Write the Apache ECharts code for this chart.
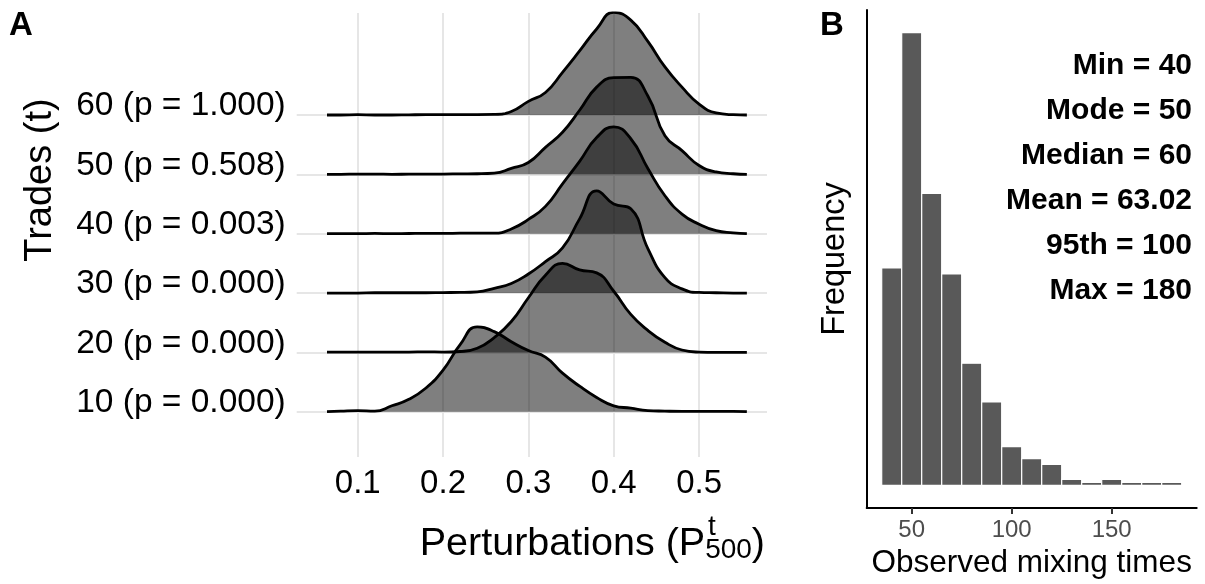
<!DOCTYPE html>
<html><head><meta charset="utf-8">
<script src="https://cdn.jsdelivr.net/npm/echarts@6/dist/echarts.min.js"></script>
<style>html,body{margin:0;padding:0;background:#fff}#c{width:1205px;height:584px}</style>
</head><body><div id="c"></div>
<script>
// ---------- Panel A data ----------
const perturbX = [0.064,0.08,0.10,0.12,0.14,0.16,0.18,0.20,0.22,0.24,0.26,0.28,0.30,0.32,0.34,0.36,0.38,0.40,0.42,0.44,0.46,0.48,0.50,0.52,0.54,0.556];
const tradeLabels = ['10 (p = 0.000)','20 (p = 0.000)','30 (p = 0.000)','40 (p = 0.003)','50 (p = 0.508)','60 (p = 1.000)'];
const perturbTicks = [0.1,0.2,0.3,0.4,0.5];
const perturbTickLabels = ['0.1','0.2','0.3','0.4','0.5'];
// ridge heights (in units of row spacing)
const dens10 = [0,0.01,0.02,0.01,0.10,0.21,0.40,0.70,1.13,1.43,1.35,1.18,1.03,0.92,0.65,0.43,0.24,0.10,0.06,0.02,0.01,0.005,0.005,0.005,0.005,0];
const dens20 = [0.005,0.005,0.005,0.005,0.005,0.005,0.01,0.005,0.015,0.07,0.25,0.52,0.92,1.30,1.50,1.39,1.34,1.03,0.64,0.37,0.17,0.04,0.005,0,0,0];
const dens30 = [0,0,0,0.005,0.005,0.005,0.005,0.008,0.01,0.02,0.08,0.16,0.32,0.53,0.76,1.25,1.72,1.50,1.42,0.75,0.26,0.07,0.01,0.005,0,0];
const dens40 = [0,0,0,0.005,0,0.003,0.005,0.005,0.008,0.01,0.01,0.08,0.24,0.46,0.84,1.22,1.62,1.80,1.60,1.10,0.64,0.33,0.16,0.05,0.015,0];
const dens50 = [0,0,0.005,0.005,0,0.003,0.005,0.005,0.008,0.01,0.02,0.10,0.20,0.455,0.71,1.08,1.47,1.63,1.635,1.32,0.65,0.40,0.15,0.04,0.01,0];
const dens60 = [0,0,0.005,0,0,0.003,0.005,0.005,0.008,0.008,0.01,0.06,0.23,0.38,0.72,1.08,1.45,1.73,1.60,1.24,0.81,0.47,0.185,0.034,0.005,0];

// ---------- Panel B data ----------
const mixBins = [40,50,60,70,80,90,100,110,120,130,140,150,160,170,180];
const mixCounts = [73,152,98,71,41,28,13,9,7,2,1,2,1,1,1];
const binWidth = 10;
const mixTicks = [50,100,150];
const statLabels = ['Min = 40','Mode = 50','Median = 60','Mean = 63.02','95th = 100','Max = 180'];

const FONT = '"Liberation Sans", Arial, Helvetica, sans-serif';
const ridges = [dens10,dens20,dens30,dens40,dens50,dens60];
const ridgeSeries = [];
for (let i = ridges.length - 1; i >= 0; i--) {
  ridgeSeries.push({
    type: 'line', xAxisIndex: 0, yAxisIndex: 0, smooth: 0.5, symbol: 'none', silent: true,
    data: perturbX.map((x, j) => [x, i + ridges[i][j]]),
    lineStyle: { color: '#000', width: 2.8 },
    areaStyle: { color: '#000', opacity: 0.5, origin: i }
  });
}

const chart = echarts.init(document.getElementById('c'));
const statGraphics = statLabels.map((t, k) => ({
  type: 'text', x: 1192, y: 66 + k * 45,
  style: { text: t, align: 'right', verticalAlign: 'middle', font: 'bold 30px ' + FONT, fill: '#000' }
}));

chart.setOption({
  animation: false,
  backgroundColor: '#fff',
  grid: [
    { left: 296.7, top: 13, width: 470.3, height: 444 },
    { left: 866.7, top: 10, width: 330, height: 503 }
  ],
  xAxis: [
    { type: 'value', gridIndex: 0, min: 0.0285, max: 0.5796,
      axisLine: { show: false },
      axisTick: { show: false, customValues: perturbTicks },
      axisLabel: { customValues: perturbTicks, formatter: v => perturbTickLabels[perturbTicks.indexOf(Math.round(v*10)/10)],
        fontSize: 33, color: '#000', fontFamily: FONT, margin: 10 },
      splitLine: { show: true, lineStyle: { color: '#e6e6e6', width: 2 } } },
    { type: 'value', gridIndex: 1, min: 27.5, max: 192.5,
      name: 'Observed mixing times', nameLocation: 'middle', nameGap: 39,
      nameTextStyle: { fontSize: 31.5, color: '#000', fontFamily: FONT },
      axisLine: { show: true, onZero: false, lineStyle: { color: '#000', width: 2 } },
      axisTick: { show: true, customValues: mixTicks, length: 6, lineStyle: { color: '#333', width: 2 } },
      axisLabel: { customValues: mixTicks, fontSize: 24, color: '#4d4d4d', fontFamily: FONT, margin: 10 },
      splitLine: { show: false } }
  ],
  yAxis: [
    { type: 'value', gridIndex: 0, min: -0.763, max: 6.719,
      axisLine: { show: false },
      axisTick: { show: false, customValues: [0,1,2,3,4,5] },
      axisLabel: { customValues: [0,1,2,3,4,5], formatter: v => tradeLabels[Math.round(v)],
        fontSize: 33.5, color: '#000', fontFamily: FONT, margin: 11, verticalAlign: 'bottom', lineHeight: 18 },
      splitLine: { show: true, lineStyle: { color: '#e6e6e6', width: 2 } } },
    { type: 'value', gridIndex: 1, min: -7.6, max: 159.6,
      name: 'Frequency', nameLocation: 'middle', nameGap: 15,
      nameTextStyle: { fontSize: 32.5, color: '#000', fontFamily: FONT },
      axisLine: { show: true, onZero: false, lineStyle: { color: '#000', width: 2 } },
      axisTick: { show: false }, axisLabel: { show: false }, splitLine: { show: false } }
  ],
  series: ridgeSeries.concat([{
    type: 'custom', xAxisIndex: 1, yAxisIndex: 1, silent: true,
    data: mixBins.map((b, k) => [b, mixCounts[k]]),
    encode: { x: 0, y: 1 },
    renderItem: function (params, api) {
      const x = api.value(0), c = api.value(1);
      const p0 = api.coord([x - binWidth / 2, c]);
      const p1 = api.coord([x + binWidth / 2, 0]);
      return { type: 'rect', shape: { x: p0[0], y: p0[1], width: p1[0] - p0[0], height: p1[1] - p0[1] },
        style: { fill: '#595959', stroke: '#fff', lineWidth: 1.2 } };
    }
  }]),
  graphic: [
    { type: 'text', x: 9, y: 25.5, style: { text: 'A', verticalAlign: 'middle', font: 'bold 33px ' + FONT, fill: '#000' } },
    { type: 'text', x: 820, y: 25.5, style: { text: 'B', verticalAlign: 'middle', font: 'bold 33px ' + FONT, fill: '#000' } },
    { type: 'text', x: 41, y: 180, rotation: Math.PI / 2,
      style: { text: 'Trades (t)', align: 'center', verticalAlign: 'middle', font: '38px ' + FONT, fill: '#000' } },
    { type: 'text', x: 765, y: 524.5,
      style: { text: '{m|Perturbations (P}{s|500}{m|)}', align: 'right', verticalAlign: 'top', fill: '#000',
        rich: { m: { fontSize: 39.5, lineHeight: 40, fontFamily: FONT, fill: '#000' },
                s: { fontSize: 28, lineHeight: 8, verticalAlign: 'bottom', fontFamily: FONT, fill: '#000' } } } },
    { type: 'text', x: 708, y: 527, style: { text: 't', verticalAlign: 'middle', font: '28px ' + FONT, fill: '#000' } }
  ].concat(statGraphics)
});
</script>
</body></html>
